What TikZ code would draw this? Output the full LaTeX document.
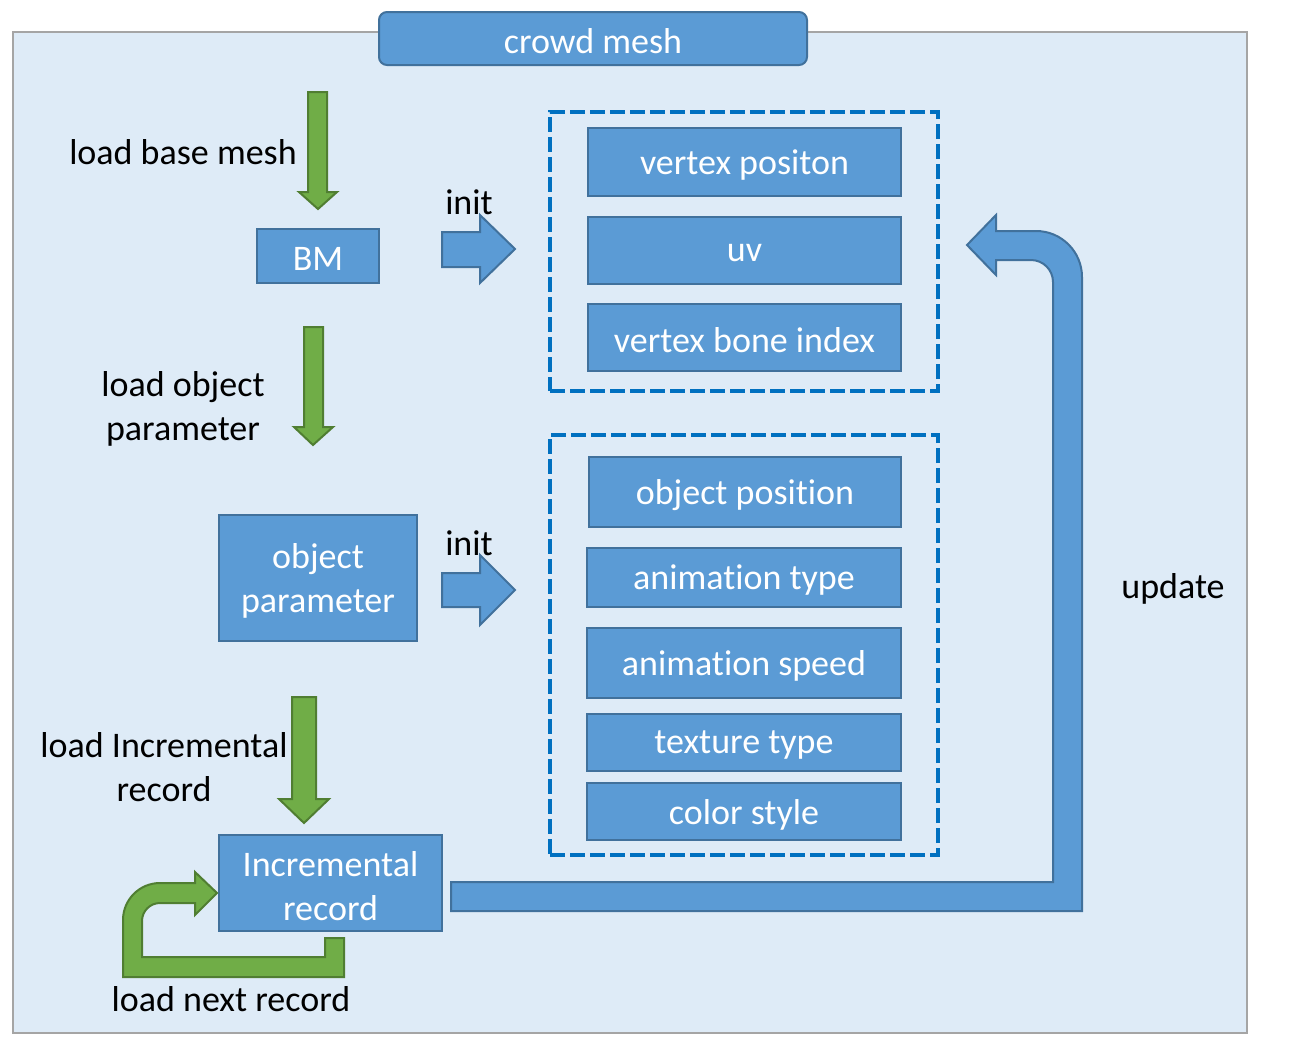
\documentclass[tikz,border=0pt]{standalone}
\usepackage{fontspec}
\setmainfont{Carlito}[RawFeature={-liga;-clig;-calt;-dlig}]
\definecolor{bgfill}{HTML}{DEEBF7}
\definecolor{bgline}{HTML}{A5A5A5}
\definecolor{bfill}{HTML}{5B9BD5}
\definecolor{bline}{HTML}{41719C}
\definecolor{gfill}{HTML}{70AD47}
\definecolor{gline}{HTML}{507E32}
\definecolor{dline}{HTML}{0070C0}
\newcommand\bx[6][]{%
  \node[bbox,#1,minimum width=#4,minimum height=#5] (#2) at #3 {};
  \node[text=white] (#2t) at ([yshift=-1.5pt]#2.center) {#6};}
\begin{document}
\begin{tikzpicture}[x=0.5pt,y=-0.5pt,
  every node/.style={font=\fontsize{18}{22}\selectfont, align=center, inner sep=0pt},
  bbox/.style={draw=bline, fill=bfill, line width=1pt},
  dbox/.style={draw=dline, line width=2pt, dash pattern=on 7.5pt off 2.5pt},
  garrow/.style={draw=gline, fill=gfill, line width=1pt, line join=miter},
  barrow/.style={draw=bline, fill=bfill, line width=1pt, line join=miter},
  lbl/.style={text=black}]
\useasboundingbox (0,0) rectangle (1297,1057);
\draw[fill=bgfill, draw=bgline, line width=1pt] (13,32) rectangle (1247,1033);
\bx[rounded corners=4pt]{crowd}{(593,38.5)}{214pt}{26.5pt}{crowd mesh}

% green arrows
\draw[garrow] (308,92) -- (327,92) -- (327,192) -- (337,192) -- (318,209) -- (299,192) -- (308,192) -- cycle;
\draw[garrow] (304,327) -- (323,327) -- (323,427) -- (333,427) -- (313,445) -- (294,427) -- (304,427) -- cycle;
\draw[garrow] (292,697) -- (316,697) -- (316,799) -- (329,799) -- (304,823) -- (279,799) -- (292,799) -- cycle;

\node[lbl] (lbm) at (183,152) {load base mesh};
\node[lbl] (lop) at (183,409) {load object\\parameter};
\node[lbl] (lir) at (164,767) {load Incremental\\record};
\node[lbl] (lnr) at (231,999) {load next record};
\node[lbl] (init1) at (469,202) {init};
\node[lbl] (init2) at (469,543) {init};
\node[lbl] (upd) at (1173,589) {update};

\bx{bm}{(318,256)}{61pt}{27pt}{BM}
\bx{objp}{(318,578)}{99pt}{63pt}{object\\parameter}
\bx{inc}{(330.5,883)}{111.5pt}{48pt}{Incremental\\record}

% init arrows
\draw[barrow] (442,232) -- (480,232) -- (480,215) -- (515,249) -- (480,283) -- (480,267) -- (442,267) -- cycle;
\draw[barrow] (442,573) -- (480,573) -- (480,555) -- (515,590) -- (480,625) -- (480,607) -- (442,607) -- cycle;

% dashed groups
\node[dbox, minimum width=194pt, minimum height=139.5pt] (grp1) at (744,251.5) {};
\node[dbox, minimum width=194pt, minimum height=210pt] (grp2) at (744,645) {};

\bx{vp}{(744.5,162)}{156.5pt}{34pt}{vertex positon}
\bx{uv}{(744.5,250.5)}{156.5pt}{33.5pt}{uv}
\bx{vbi}{(744.5,337.5)}{156.5pt}{33.5pt}{vertex bone index}

\bx{op}{(745,492)}{156pt}{35pt}{object position}
\bx{at}{(744,577.5)}{157pt}{29.5pt}{animation type}
\bx{as}{(744,663)}{157pt}{35pt}{animation speed}
\bx{tt}{(744,742.5)}{157pt}{28.5pt}{texture type}
\bx{cs}{(744,811.5)}{157pt}{28.5pt}{color style}

% update arrow
\draw[barrow] (451,882) -- (1053,882) -- (1053,282) arc[start angle=0, end angle=-90, radius=22] -- (996,260) -- (996,275) -- (967,245) -- (996,215) -- (996,231) -- (1036,231) arc[start angle=-90, end angle=0, radius=46] -- (1082,911) -- (451,911) -- cycle;

% loop arrow
\draw[garrow] (344,938) -- (344,977) -- (123,977) -- (123,920) arc[start angle=180, end angle=270, radius=37] -- (195,883) -- (195,872) -- (217,893) -- (195,915) -- (195,903) -- (160,903) arc[start angle=270, end angle=180, radius=18] -- (142,957) -- (325,957) -- (325,938) -- cycle;
\end{tikzpicture}
\end{document}
